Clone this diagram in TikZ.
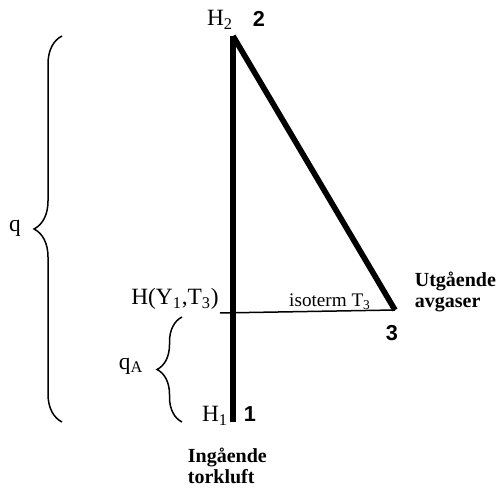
\documentclass[tikz,border=0pt]{standalone}
\usepackage{fontspec}
\setmainfont{Liberation Serif}
\newfontfamily\numfont{Liberation Sans}
\usetikzlibrary{positioning,decorations.pathreplacing}

\begin{document}
\begin{tikzpicture}[x=0.6pt, y=-0.6pt, font=\fontsize{14}{16}\selectfont]
  \newcommand\lwthick{3.4pt}
  \newcommand\statenum[1]{{\numfont\bfseries\fontsize{13}{15}\selectfont #1}}
  \useasboundingbox (0,0) rectangle (500,490);

  \node[coordinate] (p1) at (233,422) {};
  \node[coordinate] (p2) at (233,36) {};
  \node[coordinate] (p3) at (395,310) {};
  \node[coordinate] (iso) at (220,313) {};

  \draw[line width=\lwthick] (p1) -- (p2);
  \draw[line width=\lwthick] (p2) -- (p3);
  \draw[line width=0.9pt] (iso) -- (p3);
  %
  \node[coordinate] (qtop) at (62,36) {};
  \node[coordinate] (qbot) at (62,422) {};
  \node[coordinate] (qAtop) at (182,317) {};
  \node[coordinate] (qAbot) at (182,422) {};
  \draw[line width=0.9pt, decorate, decoration={brace, amplitude=16.8pt}] (qbot) -- (qtop);
  \draw[line width=0.9pt, decorate, decoration={brace, amplitude=15pt}] (qAbot) -- (qAtop);
  %
  \node (h2) at (220,20) {H\textsubscript{2}};
  \node (n2) at (259,19) {\statenum{2}};
  \node (h1) at (215,416) {H\textsubscript{1}};
  \node (n1) at (250,414) {\statenum{1}};
  \node (n3) at (392,333) {\statenum{3}};
  \node (hy) at (175,299) {H(Y\textsubscript{1},T\textsubscript{3})};
  \node[font=\fontsize{11.5}{13}\selectfont] (isolab) at (330,302) {isoterm T\textsubscript{3}};
  \node (q) at (15,228) {q};
  \node (qA) at (131,366) {q\textsubscript{A}};
  %
  \node[anchor=west, align=left, font=\fontsize{12}{13}\selectfont\bfseries] (ut) at (409,292) {Utgående\\avgaser};
  \node[anchor=west, align=left, font=\fontsize{12}{13}\selectfont\bfseries] (in) at (182,466) {Ingående\\torkluft};
\end{tikzpicture}
\end{document}
